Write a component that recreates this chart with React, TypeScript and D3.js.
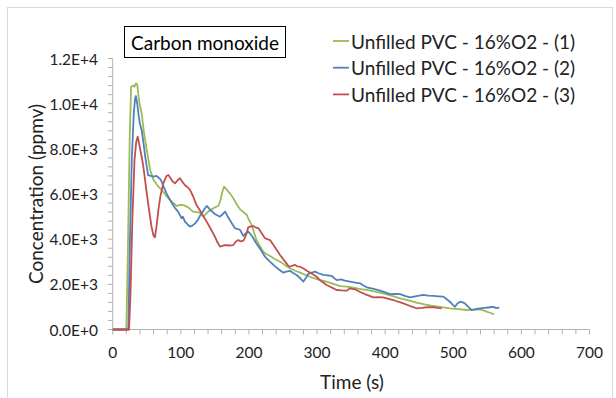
import React from "react";
import * as d3 from "d3";

type P = [number, number];

const seriesNames = [
  "Unfilled PVC - 16%O2 - (1)",
  "Unfilled PVC - 16%O2 - (2)",
  "Unfilled PVC - 16%O2 - (3)",
];
const seriesColors = ["#9BBB59", "#4F81BD", "#C0504D"];

const green: P[] = [[0,0],[20,0],[22,3000],[25,8500],[27,10750],[30,10800],[32,10750],[34,10900],[36,10850],[38,10300],[40,9900],[42.5,9575],[46,8700],[50,7950],[55,7064],[60,6620],[64,6450],[67,6325],[71,6200],[74,6100],[79,5900],[84,5735],[89,5600],[94,5470],[99,5520],[104,5510],[108,5450],[111,5410],[115,5300],[118,5220],[123,5200],[128,5175],[133,5000],[138,5150],[143,5290],[147,5350],[150,5410],[155,5470],[158,5700],[161,6100],[163.5,6325],[166,6250],[170,6100],[174,5950],[177,5810],[182,5550],[187,5320],[192,5200],[197,5070],[200,4850],[204,4630],[208,4250],[211,3965],[216,3700],[221,3445],[226,3330],[231,3255],[238,3120],[246,3000],[253,2850],[260,2710],[268,2600],[275,2520],[285,2390],[295,2270],[305,2190],[314,2120],[324,2020],[334,1925],[344,1900],[355,1840],[364,1790],[373,1750],[385,1680],[397,1600],[410,1490],[422,1380],[434,1290],[446,1190],[458,1110],[471,1040],[483,990],[495,940],[508,900],[520,864],[530,870],[539,895],[545,840],[549,790],[555,730],[560,673]];

const blue: P[] = [[0,0],[23,0],[25,3500],[28,7500],[31,9600],[33,10250],[34,10340],[36,10000],[38,9500],[40,9100],[42.5,8835],[45,8300],[48,7600],[52,6840],[56,6800],[60,6770],[64,6800],[67,6740],[70,6650],[72,6545],[75,6300],[79,6030],[83,5800],[87,5590],[91,5400],[96,5220],[99,5050],[101,4925],[103,5000],[106,4775],[110,4650],[113.5,4555],[117,4600],[121,4700],[125,4850],[128,5025],[132,5200],[135,5350],[138,5470],[141,5380],[143,5290],[147,5200],[150,5115],[154,5050],[157.6,4995],[161,5100],[165,5220],[168,5050],[172,4850],[176,4650],[179.6,4480],[184,4450],[187,4405],[192,4140],[195,4250],[199,4330],[203,4200],[206.5,4040],[210,3850],[214,3670],[219,3450],[223.6,3225],[230,3030],[236,2860],[243,2680],[250.5,2515],[255,2560],[260,2600],[265,2500],[270,2415],[275,2280],[280,2120],[284,2300],[287,2460],[292,2520],[297,2560],[303,2480],[309,2415],[315,2400],[321.6,2370],[326,2250],[329,2190],[335,2220],[341,2160],[348.5,2120],[356,2080],[363,2045],[368,1950],[373,1870],[383,1800],[392.5,1720],[400,1640],[407,1570],[415,1580],[422,1570],[429,1490],[436.6,1425],[446,1480],[456,1530],[463,1500],[470.8,1485],[478,1470],[485.5,1455],[490,1350],[495,1230],[499,1100],[502.6,1010],[506,1150],[510,1230],[514,1200],[517,1160],[522,1000],[527,864],[533,900],[539,940],[546,960],[554,985],[559,1000],[563,950],[567.7,966]];

const red: P[] = [[0,0],[24,0],[26,1500],[29,5000],[32,7500],[34.5,8300],[36.7,8540],[39,8200],[42.5,7650],[45,7210],[48,6500],[52,5590],[55,4950],[57,4550],[60,4150],[62,4080],[64.5,4600],[67,5290],[70,5900],[74.3,6470],[79,6800],[81.7,6840],[85,6700],[88,6550],[91.5,6470],[95,6600],[98.8,6700],[102,6550],[106,6400],[110,6300],[113.5,6180],[118,5900],[123,5510],[128,5280],[133,5020],[138,4775],[144,4450],[150,4110],[154,3850],[157.5,3670],[161,3700],[165,3740],[171,3720],[177,3740],[181,3900],[184.5,3960],[188,3900],[192,3930],[196,4200],[199,4525],[203,4570],[206.5,4580],[210,4520],[214,4480],[218,4300],[223.6,4040],[227,4000],[231,3960],[238,3650],[245.7,3300],[252,3050],[257,2850],[260,2780],[264,2830],[267.7,2860],[271,2800],[275,2780],[280,2700],[285,2600],[292,2480],[299.6,2340],[304,2190],[309,2080],[314,1970],[320,1880],[324,1820],[329,1750],[336,1730],[343.6,1720],[348,1820],[352,1800],[355.8,1780],[364,1650],[373,1530],[382.7,1425],[390,1430],[397,1425],[404,1370],[412,1306],[419,1230],[426.7,1160],[436,1050],[446,940],[454,960],[461,985],[470.8,985],[477,960],[483,940]];

const xTicks = [0, 100, 200, 300, 400, 500, 600, 700];
const yTicks = [0, 2000, 4000, 6000, 8000, 10000, 12000];

const W = 616;
const H = 398;
const FONT = "Lato, sans-serif";

export default function App() {
  const x = d3.scaleLinear().domain([0, 700]).range([112.7, 589.5]);
  const y = d3.scaleLinear().domain([0, 12000]).range([329.5, 58.5]);
  const line = d3
    .line<P>()
    .x((d) => x(d[0]))
    .y((d) => y(d[1]));
  const data = [green, blue, red];
  const xMinor = d3.range(0, 701, 20);
  const yMinor = d3.range(0, 12001, 400);
  const axisColor = "#b3b3b3";
  const fmt = (v: number) => {
    if (v === 0) return "0.0E+0";
    const e = Math.floor(Math.log10(v));
    return (v / Math.pow(10, e)).toFixed(1) + "E+" + e;
  };

  return (
    <svg
      width={W}
      height={H}
      style={{ position: "absolute", left: 0, top: 0, background: "#fff" }}
      fontFamily={FONT}
    >
      <rect x={7.5} y={7.5} width={605} height={H} fill="#fff" stroke="#d9d9d9" />
      <line x1={x(0)} x2={x(700)} y1={y(0)} y2={y(0)} stroke={axisColor} />
      <line x1={x(0)} x2={x(0)} y1={y(0)} y2={y(12000)} stroke={axisColor} />
      {xMinor.map((t) => (
        <line key={"xm" + t} x1={x(t)} x2={x(t)} y1={y(0)} y2={y(0) + 5} stroke={axisColor} />
      ))}
      {yMinor.map((t) => (
        <line key={"ym" + t} x1={x(0) - 5} x2={x(0)} y1={y(t)} y2={y(t)} stroke={axisColor} />
      ))}
      {xTicks.map((t) => (
        <text key={"xt" + t} x={x(t)} y={352} textAnchor="middle" dominantBaseline="central" fontSize={15.5} fill="#222">
          {t}
        </text>
      ))}
      {yTicks.map((t) => (
        <text key={"yt" + t} x={98} y={y(t)} textAnchor="end" dominantBaseline="central" fontSize={15.5} fill="#222">
          {fmt(t)}
        </text>
      ))}
      <text x={352} y={381} textAnchor="middle" dominantBaseline="central" fontSize={19} fill="#222">
        Time (s)
      </text>
      <text
        transform={`translate(35,194) rotate(-90)`}
        textAnchor="middle"
        dominantBaseline="central"
        fontSize={19}
        fill="#222"
      >
        Concentration (ppmv)
      </text>
      {data.map((d, i) => (
        <path key={i} d={line(d) || ""} fill="none" stroke={seriesColors[i]} strokeWidth={1.8} strokeLinejoin="round" />
      ))}
      <rect x={124.5} y={26.5} width={161} height={31} fill="#fff" stroke="#000" strokeWidth={1} />
      <text x={205} y={42} textAnchor="middle" dominantBaseline="central" fontSize={19} fill="#000">
        Carbon monoxide
      </text>
      {seriesNames.map((n, i) => (
        <g key={n}>
          <line x1={333} x2={349} y1={41 + i * 26.7} y2={41 + i * 26.7} stroke={seriesColors[i]} strokeWidth={1.8} />
          <text x={351} y={41 + i * 26.7} dominantBaseline="central" fontSize={19} fill="#222">
            {n}
          </text>
        </g>
      ))}
    </svg>
  );
}
